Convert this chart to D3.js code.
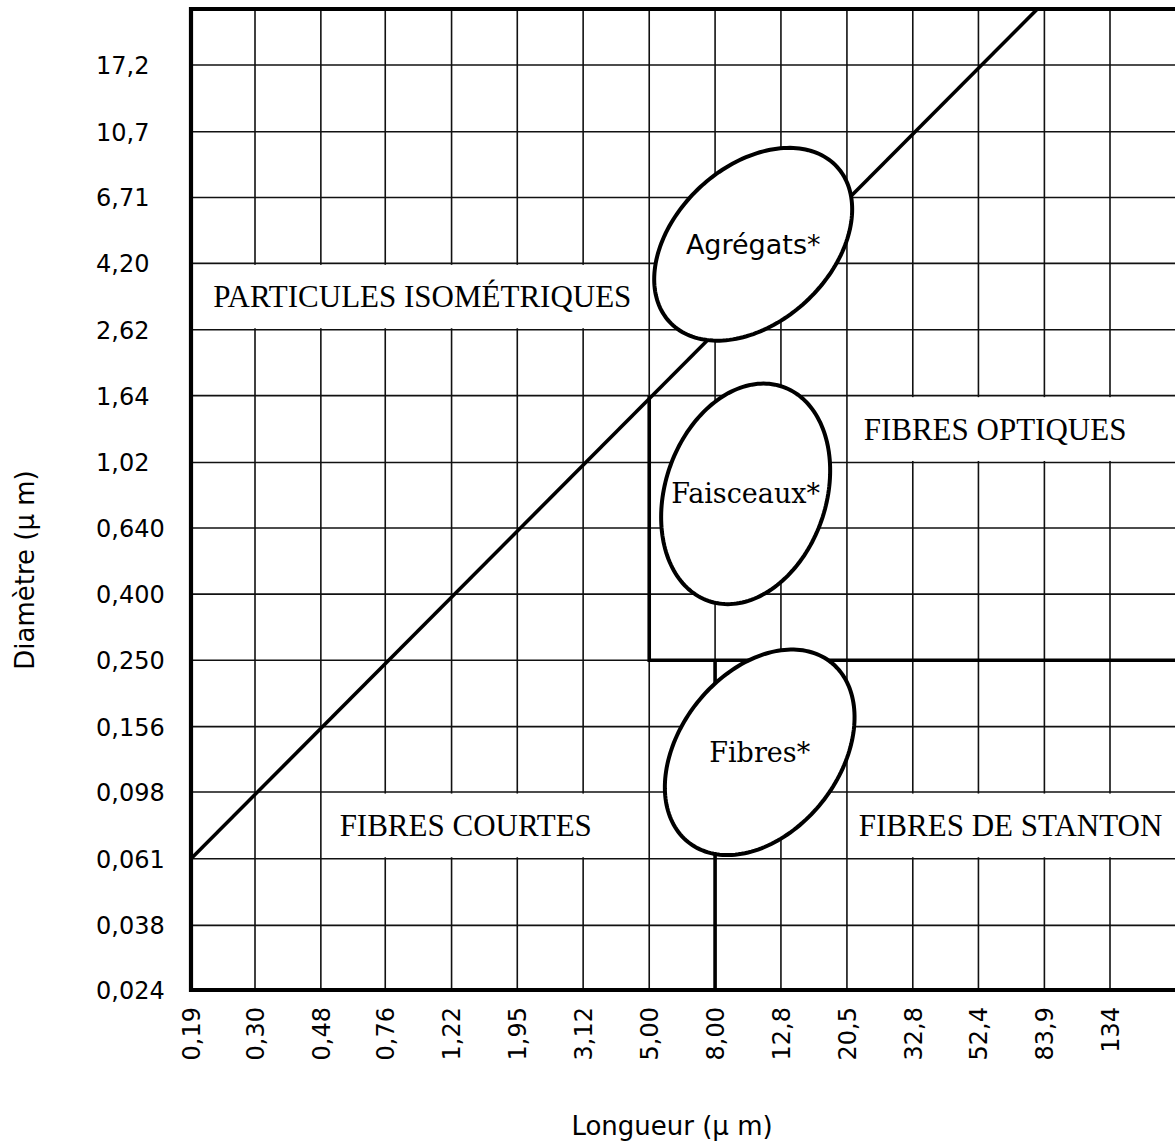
<!DOCTYPE html>
<html>
<head>
<meta charset="utf-8">
<script src="https://cdn.jsdelivr.net/npm/d3@7"></script>
<style>
  html, body { margin: 0; padding: 0; background: #fff; }
  svg { display: block; }
</style>
</head>
<body>
<svg id="chart" width="1175" height="1146"></svg>
<script>
// Tick values in µm: both axes advance by a factor of 1.6 per grid step
const lengthTicks = [0.19, 0.30, 0.48, 0.76, 1.22, 1.95, 3.12, 5.00, 8.00, 12.8, 20.5, 32.8, 52.4, 83.9, 134];
const lengthTickLabels = ["0,19", "0,30", "0,48", "0,76", "1,22", "1,95", "3,12", "5,00", "8,00", "12,8", "20,5", "32,8", "52,4", "83,9", "134"];
const diameterTicks = [0.024, 0.038, 0.061, 0.098, 0.156, 0.250, 0.400, 0.640, 1.02, 1.64, 2.62, 4.20, 6.71, 10.7, 17.2];
const diameterTickLabels = ["0,024", "0,038", "0,061", "0,098", "0,156", "0,250", "0,400", "0,640", "1,02", "1,64", "2,62", "4,20", "6,71", "10,7", "17,2"];

// Class boundaries as [length, diameter] vertices
const isometricBoundary = [[0.19, 0.061], [134, 43]];
const opticalBoundary = [[5.00, 1.64], [5.00, 0.250], [300, 0.250]];
const stantonBoundary = [[8.00, 0.250], [8.00, 0.024]];

// Particle classes: name, length span, diameter span, label anchor [length, diameter]
const zoneNames = ["PARTICULES ISOMÉTRIQUES", "FIBRES OPTIQUES", "FIBRES COURTES", "FIBRES DE STANTON"];
const zoneLengths = [[0.19, 5.00], [20.5, 300], [0.48, 5.00], [20.5, 300]];
const zoneDiameters = [[2.62, 4.20], [1.02, 1.64], [0.061, 0.098], [0.061, 0.098]];
const zoneAnchors = [[0.99, 3.32], [59, 1.29], [1.35, 0.0773], [65.9, 0.0773]];

// Observed populations: name, centre [length, diameter], semi-axes (decades), tilt (degrees)
const clusterNames = ["Agrégats*", "Faisceaux*", "Fibres*"];
const clusterCentres = [[10.5, 4.81], [9.95, 0.816], [11.0, 0.130]];
const clusterAxes = [[0.353, 0.241], [0.350, 0.249], [0.355, 0.247]];
const clusterTilts = [42.6, 70.7, 51.3];

// ---- layout ----
const plotLeft = 191, plotTop = 9, plotRight = 1175, plotBottom = 990;

const svg = d3.select("#chart");

const x = d3.scaleLog()
  .domain([lengthTicks[0], lengthTicks[lengthTicks.length - 1]])
  .range([plotLeft, 1110]);
const y = d3.scaleLog()
  .domain([diameterTicks[0], diameterTicks[diameterTicks.length - 1]])
  .range([plotBottom, 65]);

svg.append("defs").append("clipPath").attr("id", "plot-clip")
  .append("rect").attr("x", plotLeft).attr("y", plotTop)
  .attr("width", plotRight - plotLeft + 10).attr("height", plotBottom - plotTop);

const plot = svg.append("g").attr("clip-path", "url(#plot-clip)");

// grid
const grid = plot.append("g").attr("stroke", "#111").attr("stroke-width", 1.6);
grid.selectAll("line.v").data(lengthTicks.slice(1)).join("line")
  .attr("class", "v")
  .attr("x1", d => x(d)).attr("x2", d => x(d))
  .attr("y1", plotTop).attr("y2", plotBottom);
grid.selectAll("line.h").data(diameterTicks.slice(1)).join("line")
  .attr("class", "h")
  .attr("x1", plotLeft).attr("x2", plotRight + 10)
  .attr("y1", d => y(d)).attr("y2", d => y(d));

// blank label panels between grid lines
plot.selectAll("rect.zone").data(zoneNames).join("rect")
  .attr("class", "zone")
  .attr("fill", "#fff")
  .attr("x", (d, i) => x(zoneLengths[i][0]) + 1.5)
  .attr("width", (d, i) => x(zoneLengths[i][1]) - x(zoneLengths[i][0]) - 3)
  .attr("y", (d, i) => y(zoneDiameters[i][1]) + 1.5)
  .attr("height", (d, i) => y(zoneDiameters[i][0]) - y(zoneDiameters[i][1]) - 3);

// class boundaries
const line = d3.line().x(d => x(d[0])).y(d => y(d[1]));
const bounds = plot.append("g").attr("fill", "none").attr("stroke", "#000")
  .attr("stroke-width", 3.6).attr("stroke-linejoin", "miter");
[isometricBoundary, opticalBoundary, stantonBoundary].forEach(b => {
  bounds.append("path").attr("d", line(b));
});

// frame (top, left, bottom)
svg.append("path")
  .attr("d", d3.line()([[plotRight + 5, plotTop], [plotLeft, plotTop], [plotLeft, plotBottom], [plotRight + 5, plotBottom]]))
  .attr("fill", "none").attr("stroke", "#000").attr("stroke-width", 4.2)
  .attr("stroke-linejoin", "miter");

// population ellipses in log space
function ellipsePoints(c, ax, tiltDeg) {
  const th = tiltDeg * Math.PI / 180;
  return d3.range(0, 180).map(k => {
    const t = k / 180 * 2 * Math.PI;
    const u = ax[0] * Math.cos(t) * Math.cos(th) - ax[1] * Math.sin(t) * Math.sin(th);
    const v = ax[0] * Math.cos(t) * Math.sin(th) + ax[1] * Math.sin(t) * Math.cos(th);
    return [c[0] * Math.pow(10, u), c[1] * Math.pow(10, v)];
  });
}
const closed = d3.line().x(d => x(d[0])).y(d => y(d[1])).curve(d3.curveLinearClosed);
svg.append("g").selectAll("path").data(clusterNames).join("path")
  .attr("d", (d, i) => closed(ellipsePoints(clusterCentres[i], clusterAxes[i], clusterTilts[i])))
  .attr("fill", "#fff").attr("stroke", "#000").attr("stroke-width", 4);

svg.append("g").selectAll("text").data(clusterNames).join("text")
  .attr("x", (d, i) => x(clusterCentres[i][0]))
  .attr("y", (d, i) => y(clusterCentres[i][1]))
  .attr("dy", "0.35em")
  .attr("text-anchor", "middle")
  .attr("font-family", (d, i) => i === 0 ? "'DejaVu Sans', sans-serif" : "'DejaVu Serif', serif")
  .attr("font-size", 27)
  .attr("fill", "#000")
  .text(d => d);

// zone labels
svg.append("g").selectAll("text").data(zoneNames).join("text")
  .attr("x", (d, i) => x(zoneAnchors[i][0]))
  .attr("y", (d, i) => y(zoneAnchors[i][1]))
  .attr("dy", "0.33em")
  .attr("text-anchor", "middle")
  .attr("font-family", "'Liberation Serif', serif")
  .attr("font-size", 31)
  .attr("fill", "#000")
  .text(d => d);

// axes (tick labels only; the grid is drawn separately)
const tickFont = "'DejaVu Sans', sans-serif";
const yAxis = svg.append("g").attr("transform", `translate(${plotLeft},0)`)
  .call(d3.axisLeft(y).tickValues(diameterTicks).tickSize(0)
    .tickFormat((d, i) => diameterTickLabels[i]));
yAxis.select(".domain").remove();
yAxis.selectAll("text")
  .attr("x", 96 - plotLeft).attr("dy", "0.35em")
  .attr("text-anchor", "start")
  .attr("font-family", tickFont).attr("font-size", 24).attr("fill", "#000");

const xAxis = svg.append("g").attr("transform", `translate(0,${plotBottom})`)
  .call(d3.axisBottom(x).tickValues(lengthTicks).tickSize(0)
    .tickFormat((d, i) => lengthTickLabels[i]));
xAxis.select(".domain").remove();
xAxis.selectAll("text")
  .attr("transform", "rotate(-90)")
  .attr("x", -17).attr("y", 0).attr("dy", "0.35em")
  .attr("text-anchor", "end")
  .attr("font-family", tickFont).attr("font-size", 24).attr("fill", "#000");

// axis titles
svg.append("text")
  .attr("transform", "translate(34,570) rotate(-90)")
  .attr("text-anchor", "middle")
  .attr("font-family", tickFont).attr("font-size", 26).attr("fill", "#000")
  .text("Diamètre (µ m)");
svg.append("text")
  .attr("x", 672).attr("y", 1135)
  .attr("text-anchor", "middle")
  .attr("font-family", tickFont).attr("font-size", 26).attr("fill", "#000")
  .text("Longueur (µ m)");
</script>
</body>
</html>
